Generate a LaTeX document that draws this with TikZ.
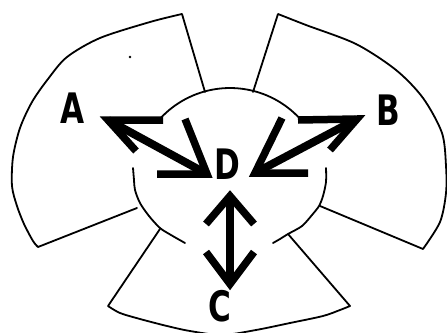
\documentclass[tikz,border=0pt]{standalone}
\usepackage{fontspec}
\setmainfont{DejaVu Sans}
\usepackage{graphicx}
\usetikzlibrary{calc}
\tikzset{
  outline/.style={line width=1.8pt, line join=round, line cap=round},
  shaft/.style={line width=8pt, line cap=butt},
  wing/.style={line width=7.5pt, line join=miter, line cap=butt},
  letter/.style={inner sep=0pt, font=\fontsize{42}{42}\selectfont\bfseries}
}
\newcommand{\narrow}[1]{\scalebox{0.74}[1]{#1}}
\begin{document}
\begin{tikzpicture}[x=1pt,y=-1pt]
\useasboundingbox (0,0) rectangle (447,332);
% disc: upper arc
\draw[outline] plot[domain=137:43,samples=40] ({230+95*cos(\x)},{183-95*sin(\x)});
% disc: left side
\draw[outline] plot[smooth] coordinates {(133,168) (134,180) (135,190) (140,203) (149,216) (160,228) (171,235) (185,243)};
% disc: right side
\draw[outline] plot[smooth] coordinates {(326,168) (326,182) (323,196) (319,206) (312,215) (302,226) (288,234) (280,239) (273,243)};
% petal A
\draw[outline] (205,92) -- (182,14)
  plot[smooth] coordinates {(182,14) (150,22) (100,38) (67,57) (48,79) (32,102) (20,128) (13,157) (12,186) (17,206) (24,224) (33,241) (38,247)}
  -- (137,208);
% petal B
\draw[outline] (253,92) -- (278,14)
  plot[smooth] coordinates {(278,14) (306,25) (356,44) (396,70) (423,98) (442,133) (446,166) (446,193) (440,222) (423,249)}
  -- (320,206);
% petal C
\draw[outline] (160,229) -- (108,306)
  plot[smooth] coordinates {(108,306) (120,313) (140,319) (167,326) (190,331) (222,335) (256,330) (290,323) (323,316) (340,310) (350,306)}
  -- (288,234);
% stray dot
\fill (130,57) circle (1.3);
% labels
\node[letter] (A) at (73,108) {\narrow{A}};
\node[letter] (B) at (388,110) {\narrow{B}};
\node[letter] (D) at (227,164) {\narrow{D}};
\node[letter] (C) at (220,306) {\narrow{C}};
% arrow end points
\coordinate (ta) at (108,120);
\coordinate (tda) at (207,174);
\coordinate (tb) at (357,119);
\coordinate (tdb) at (255,173);
\coordinate (tdc) at (230,196);
\coordinate (tc) at (230,284);
% A <-> D
\draw[shaft] (ta) -- (tda);
\draw[wing] ($(ta)+(55,0)$) -- (ta) -- ($(ta)+(28,31)$);
\draw[wing] ($(tda)+(-50,0)$) -- (tda) -- ($(tda)+(-22,-55)$);
% B <-> D
\draw[shaft] (tb) -- (tdb);
\draw[wing] ($(tb)+(-59,1)$) -- (tb) -- ($(tb)+(-27,31)$);
\draw[wing] ($(tdb)+(53,0)$) -- (tdb) -- ($(tdb)+(27,-55)$);
% C <-> D
\draw[shaft] (tdc) -- (tc);
\draw[wing] ($(tdc)+(-24,28)$) -- (tdc) -- ($(tdc)+(24,28)$);
\draw[wing] ($(tc)+(-24,-32)$) -- (tc) -- ($(tc)+(24,-32)$);
\end{tikzpicture}
\end{document}
